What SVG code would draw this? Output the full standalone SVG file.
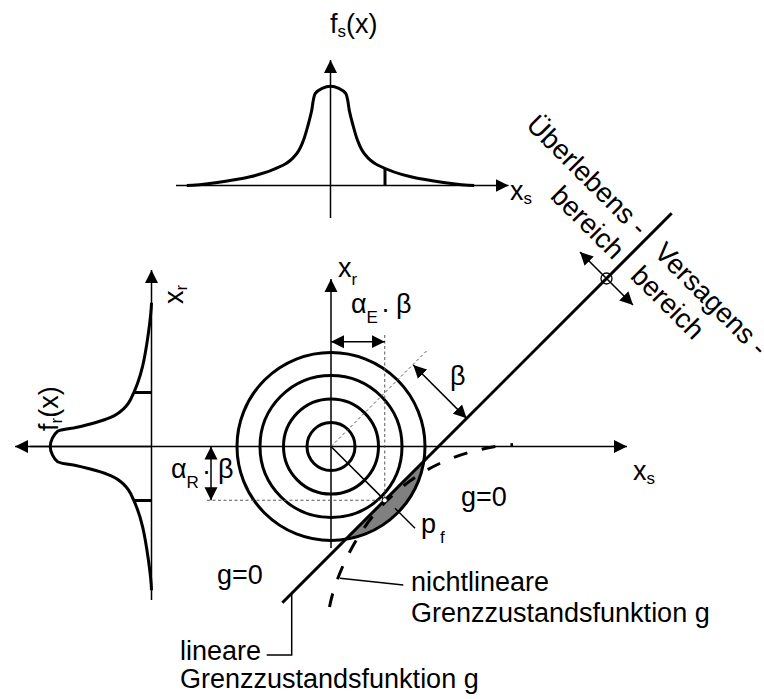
<svg xmlns="http://www.w3.org/2000/svg" width="764" height="699" viewBox="0 0 764 699">
<style>
.thick{stroke:#000;stroke-width:3;fill:none}
.thin{stroke:#000;stroke-width:1.5;fill:none}
.dot{stroke:#555;stroke-width:1;stroke-dasharray:3 2.5;fill:none}
.dash{stroke:#000;stroke-width:3;stroke-dasharray:14 15;fill:none}
.arr{marker-end:url(#ah)}
.darr{marker-start:url(#ah);marker-end:url(#ah)}
text{font-family:"Liberation Sans",Arial,sans-serif;font-size:27px;fill:#000}
.sub{font-size:17px}
.rot{font-size:27.5px}
</style>
<defs>
<marker id="ah" markerUnits="userSpaceOnUse" viewBox="0 0 13 14" markerWidth="13" markerHeight="14" refX="13" refY="7" orient="auto-start-reverse">
<path d="M0,0.5 L13,7 L0,13.5 z" fill="#000"/>
</marker>
</defs>
<rect width="764" height="699" fill="#fff"/>

<g id="top-distribution">
<line class="thin arr" x1="176" y1="185.5" x2="508.5" y2="185.5"/>
<line class="thin arr" x1="330.5" y1="218" x2="330.5" y2="60"/>
<path class="thick" d="M186.8,185.5 C200.1,185.17 234.08,180.47 250.2,176.8 C266.32,173.13 275.73,168.88 283.5,165 C291.27,161.12 293.47,157.63 296.8,153.5 C300.13,149.37 301.55,145.2 303.5,140.2 C305.45,135.2 307.12,128.5 308.5,123.5 C309.88,118.5 310.68,115.2 311.8,110.2 C312.5,105.5 313.3,97 315.2,93.5 C318.32,89.5 325.4,86.2 330.5,86.2 C335.6,86.2 342.68,89.5 345.8,93.5 C347.7,97 348.5,105.5 349.2,110.2 C350.32,115.2 351.12,118.5 352.5,123.5 C353.88,128.5 355.55,135.2 357.5,140.2 C359.45,145.2 360.87,149.37 364.2,153.5 C367.53,157.63 369.73,161.12 377.5,165 C385.27,168.88 394.68,173.13 410.8,176.8 C426.92,180.47 460.9,185.17 474.2,185.5"/>
<line class="thick" x1="385" y1="185.5" x2="385" y2="169"/>
<text x="330" y="33" font-size="26">f<tspan class="sub" dy="4">s</tspan><tspan dy="-4">(x)</tspan></text>
<text x="510" y="200" font-size="26">x<tspan class="sub" dy="3.5">s</tspan></text>
</g>

<g id="left-distribution">
<line class="thin arr" x1="151.5" y1="600" x2="151.5" y2="270"/>
<path class="thick" d="M151.5,302.8 C151.16,316.1 146.37,350.08 142.63,366.2 C138.88,382.32 134.55,391.73 130.59,399.5 C126.63,407.27 123.07,409.47 118.86,412.8 C114.65,416.13 110.39,417.55 105.29,419.5 C100.19,421.45 93.36,423.12 88.26,424.5 C83.16,425.88 79.79,426.68 74.69,427.8 C69.9,428.5 61.23,429.3 57.66,431.2 C53.58,434.32 50.21,441.4 50.21,446.5 C50.21,451.6 53.58,458.68 57.66,461.8 C61.23,463.7 69.9,464.5 74.69,465.2 C79.79,466.32 83.16,467.12 88.26,468.5 C93.36,469.88 100.19,471.55 105.29,473.5 C110.39,475.45 114.65,476.87 118.86,480.2 C123.07,483.53 126.63,485.73 130.59,493.5 C134.55,501.27 138.88,510.68 142.63,526.8 C146.37,542.92 151.16,576.9 151.5,590.2"/>
<line class="thick" x1="134.5" y1="392.5" x2="151.5" y2="392.5"/>
<line class="thick" x1="134.5" y1="500.5" x2="151.5" y2="500.5"/>
<text transform="translate(57.5,431) rotate(-90)" font-size="26">f<tspan class="sub" dy="4">r</tspan><tspan dy="-4">(x)</tspan></text>
<text transform="translate(183,304) rotate(-90)" font-size="26">x<tspan class="sub" dy="4">r</tspan></text>
</g>

<g id="failure-probability">
<path d="M423.85,461.15 A94,94 0 0 1 345.65,539.35 Z" fill="#808080"/>
</g>

<g id="contour-circles">
<circle class="thick" cx="331" cy="446.5" r="24"/>
<circle class="thick" cx="331" cy="446.5" r="47.5"/>
<circle class="thick" cx="331" cy="446.5" r="71"/>
<circle class="thick" cx="331" cy="446.5" r="94"/>
</g>

<g id="axes">
<line class="thin arr" x1="30" y1="446.5" x2="627" y2="446.5"/>
<line class="thin arr" x1="151" y1="446.5" x2="15" y2="446.5"/>
<line class="thin arr" x1="331" y1="548" x2="331" y2="279"/>
<text x="338" y="277">x<tspan class="sub" dy="8">r</tspan></text>
<text x="633" y="480">x<tspan class="sub" dy="3.5">s</tspan></text>
</g>

<g id="limit-state-linear">
<line class="thick" x1="282.3" y1="602.7" x2="671.7" y2="213.3"/>
</g>

<g id="limit-state-nonlinear">
<path class="dash" d="M329.5,607 C335,578 355,532 386,501.5 C406,481.5 445,450 513,444.5"/>
</g>

<g id="connectors">
<line class="dot" x1="331" y1="446.5" x2="427" y2="350.5"/>
<line class="dot" x1="384.75" y1="335" x2="384.75" y2="500.25"/>
<line class="dot" x1="207" y1="500.25" x2="384.75" y2="500.25"/>
<line class="thin" x1="331" y1="446.5" x2="382.9" y2="498.4"/>
<circle cx="384.75" cy="500.25" r="2.6" fill="#fff" stroke="#000" stroke-width="1"/>
<line class="thin darr" x1="331" y1="341.7" x2="384.75" y2="341.7"/>
<line class="thin darr" x1="211" y1="446.5" x2="211" y2="500.25"/>
<line class="thin darr" x1="413.3" y1="365" x2="466.65" y2="418.35"/>
<line class="thin darr" x1="580" y1="252" x2="633" y2="305"/>
<circle cx="606.5" cy="278.5" r="5.5" fill="none" stroke="#000" stroke-width="1.3"/>
<line class="thin" x1="395" y1="508.3" x2="415" y2="528.3"/>
<line class="thin" x1="340" y1="578.3" x2="403.3" y2="585"/>
<polyline class="thin" points="266.7,655 291.7,655 291.7,594"/>
</g>

<g id="labels">
<text x="351" y="313">α<tspan class="sub" dy="10">E</tspan><tspan x="381" y="318">·</tspan><tspan x="396" y="313">β</tspan></text>
<text x="450" y="385">β</text>
<text x="171" y="478">α<tspan class="sub" dy="10">R</tspan><tspan x="202" y="480">·</tspan><tspan x="218" y="478">β</tspan></text>
<text x="421" y="533">p<tspan class="sub" x="440" dy="10" font-size="18">f</tspan></text>
<text x="461" y="506">g=0</text>
<text x="217" y="584">g=0</text>
<text x="411" y="591">nichtlineare</text>
<text x="411" y="622">Grenzzustandsfunktion g</text>
<text x="180" y="660">lineare</text>
<text x="180" y="688">Grenzzustandsfunktion g</text>
<text class="rot" transform="rotate(45)" x="618" y="-282" text-anchor="end">Überlebens -</text>
<text class="rot" transform="rotate(45)" x="618" y="-249" text-anchor="end">bereich</text>
<text class="rot" transform="rotate(45)" x="641" y="-282">Versagens -</text>
<text class="rot" transform="rotate(45)" x="641" y="-249">bereich</text>
</g>
</svg>
